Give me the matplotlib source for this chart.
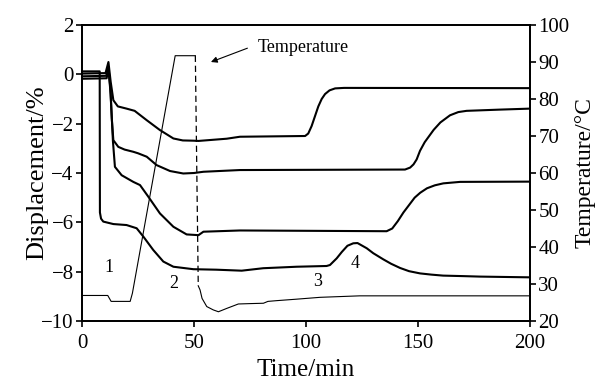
import matplotlib
matplotlib.use("Agg")
import matplotlib.pyplot as plt

plt.rcParams['font.family'] = ['Liberation Serif', 'DejaVu Serif']
plt.rcParams['axes.unicode_minus'] = True

# displacement curves (time in min, displacement in %)
t1 = [0, 10.5, 11.8, 12.8, 14, 16, 19.9, 23.5, 28.9, 34.8, 40.8, 45, 49.7, 52, 64.6, 70.5,
      99.6, 101, 102.5, 104, 105.5, 107, 108.5, 110.5, 113, 117, 200]
d1 = [0.03, 0.05, 0.5, -0.3, -1.05, -1.3, -1.39, -1.48, -1.86, -2.26, -2.6, -2.68, -2.69, -2.7, -2.61, -2.53,
      -2.5, -2.4, -2.1, -1.7, -1.3, -1.0, -0.8, -0.65, -0.57, -0.55, -0.56]

t2 = [0, 10.8, 11.8, 12.6, 13.3, 14, 16.2, 19, 22.9, 25, 28.9, 33.3, 39.3, 45.2, 50, 54.2, 70.5,
      144.2, 146.5, 148, 149.4, 150.9, 153, 155.4, 157, 160, 164.3, 168, 171.7, 186.6, 200]
d2 = [-0.08, -0.06, 0.3, -0.5, -1.8, -2.67, -2.94, -3.05, -3.14, -3.2, -3.34, -3.68, -3.92, -4.02, -4.0, -3.95, -3.88,
      -3.86, -3.78, -3.65, -3.45, -3.1, -2.75, -2.45, -2.25, -1.95, -1.66, -1.53, -1.48, -1.43, -1.39]

t3 = [0, 11, 11.8, 12.8, 13.8, 14.7, 17.7, 22.9, 25.9, 29.6, 34.8, 40.8, 46.7, 52, 54.2, 70.5,
      136, 138.5, 141, 143.5, 146, 148.5, 151, 154, 157.5, 161.3, 168.8, 200]
d3 = [-0.18, -0.16, 0.2, -0.8, -2.7, -3.75, -4.09, -4.36, -4.49, -4.96, -5.64, -6.18, -6.49, -6.52, -6.38, -6.33,
      -6.36, -6.25, -5.95, -5.6, -5.3, -5.0, -4.8, -4.62, -4.5, -4.42, -4.36, -4.35]

t4 = [0, 7.9, 8.0, 8.5, 9.5, 14, 19.9, 24.4, 27.4, 31.8, 36.3, 40.8, 49.7, 60, 71.3, 80.9, 88.4, 95.8,
      109.2, 110.7, 113.7, 116, 118.5, 121.1, 123, 127.1, 130, 134.5, 138, 142, 146, 150.9, 156, 161.2,
      170, 177.7, 200]
d4 = [0.12, 0.12, -5.6, -5.85, -5.97, -6.07, -6.11, -6.24, -6.58, -7.12, -7.59, -7.8, -7.9, -7.92, -7.96, -7.86, -7.83, -7.8,
      -7.77, -7.73, -7.46, -7.2, -6.95, -6.85, -6.84, -7.05, -7.25, -7.5, -7.68, -7.85, -7.98, -8.07, -8.12, -8.16,
      -8.18, -8.2, -8.23]

# temperature (°C): heating, hold, then cooling after the dashed drop
temp_t_heat = [0, 11.5, 13, 21.5, 22.5, 41.6, 50.6]
temp_heat = [26.9, 26.9, 25.3, 25.3, 27.5, 91.7, 91.7]
temp_t_drop = [50.6, 51.9]
temp_drop = [91.7, 29.5]
temp_t_cool = [51.9, 52.7, 53.6, 55.7, 58.6, 60.9, 64.6, 69.8, 75, 81, 83, 86.9, 95.8, 106.3, 124, 200]
temp_cool = [29.5, 28.4, 26.1, 23.9, 23, 22.5, 23.4, 24.6, 24.7, 24.8, 25.3, 25.5, 25.9, 26.4, 26.8, 26.8]

stage_labels = ['1', '2', '3', '4']
stage_t = [12, 41, 105.4, 121.9]
stage_d = [-7.85, -8.46, -8.38, -7.65]

fig = plt.figure(figsize=(6.04, 3.81), dpi=100)
ax = fig.add_axes([82 / 604, 1 - 321 / 381, 448 / 604, 296 / 381])

for t, d in [(t1, d1), (t2, d2), (t3, d3), (t4, d4)]:
    ax.plot(t, d, color='black', lw=1.5)

ax.set_xlim(0, 200)
ax.set_ylim(-10, 2)
ax.set_xticks([0, 50, 100, 150, 200])
ax.set_yticks([-10, -8, -6, -4, -2, 0, 2])
ax.set_xlabel('Time/min', fontsize=18, labelpad=5)
ax.set_ylabel('Displacement/%', fontsize=19, labelpad=-5)
ax.tick_params(direction='out', length=4, width=1.2, labelsize=15, colors='black', right=False, pad=2)
ax.tick_params(axis='x', pad=5)

for lab, x, y in zip(stage_labels, stage_t, stage_d):
    ax.text(x, y, lab, fontsize=13, ha='center', va='center')

ax2 = ax.twinx()
ax2.plot(temp_t_heat, temp_heat, color='black', lw=0.8)
ax2.plot(temp_t_drop, temp_drop, color='black', lw=0.9, ls=(0, (5, 3)))
ax2.plot(temp_t_cool, temp_cool, color='black', lw=0.8)
ax2.set_ylim(20, 100)
ax2.set_yticks(range(20, 101, 10))
ax2.set_ylabel('Temperature/°C', fontsize=17, labelpad=4)
ax2.tick_params(direction='out', length=4, width=1.2, labelsize=15, pad=2)

for a in (ax, ax2):
    for s in a.spines.values():
        s.set_linewidth(1.3)

ax.annotate('', xy=(56.4, 0.46), xytext=(75, 1.1),
            arrowprops=dict(arrowstyle='-|>', color='black', lw=0.8, mutation_scale=9))
ax.text(78.6, 1.08, 'Temperature', fontsize=13, ha='left', va='center')

fig.savefig('out.png', dpi=100)
